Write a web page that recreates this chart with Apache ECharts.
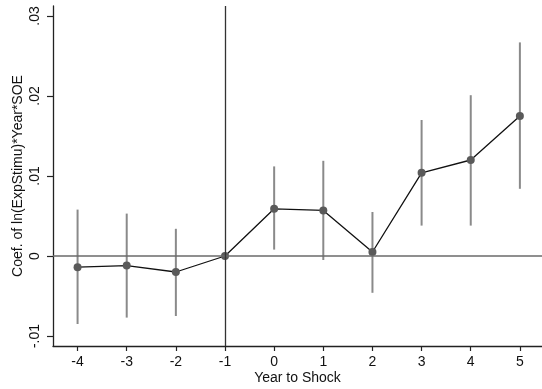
<!DOCTYPE html>
<html>
<head>
<meta charset="utf-8">
<script src="https://cdn.jsdelivr.net/npm/echarts@6/dist/echarts.min.js"></script>
<style>
  html, body { margin: 0; padding: 0; background: #fff; }
  #chart { width: 542px; height: 389px; }
</style>
</head>
<body>
<div id="chart"></div>
<script>
const years = [-4, -3, -2, -1, 0, 1, 2, 3, 4, 5];
const coef = [-0.0014, -0.0012, -0.0020, 0, 0.0059, 0.0057, 0.0005, 0.0104, 0.0120, 0.0175];
const ciLow = [-0.0085, -0.0077, -0.0075, 0, 0.0008, -0.0005, -0.0046, 0.0038, 0.0038, 0.0084];
const ciHigh = [0.0058, 0.0053, 0.0034, 0, 0.0112, 0.0119, 0.0055, 0.0170, 0.0201, 0.0267];
const yTicks = [-0.01, 0, 0.01, 0.02, 0.03];

const FONT = 'Liberation Sans, Arial, sans-serif';

const chart = echarts.init(document.getElementById('chart'));

const fmtY = (v) => {
  if (Math.abs(v) < 1e-9) return '0';
  return v.toFixed(2).replace('0.', '.');
};

chart.setOption({
  animation: false,
  grid: { left: 53, right: 0, top: 6, bottom: 43, outerBoundsMode: 'none', containLabel: false },
  xAxis: {
    type: 'value',
    min: -4.5,
    max: 5.45,
    name: 'Year to Shock',
    nameLocation: 'middle',
    nameGap: 25,
    nameMoveOverlap: false,
    nameTextStyle: { color: '#111', fontSize: 14, fontFamily: FONT },
    axisLine: { show: true, onZero: false, lineStyle: { color: '#222', width: 1.3 } },
    axisTick: { show: true, length: 5, customValues: years, lineStyle: { color: '#222', width: 1.2 } },
    axisLabel: { customValues: years, color: '#111', fontSize: 14, fontFamily: FONT, margin: 9 },
    splitLine: { show: false },
  },
  yAxis: {
    type: 'value',
    min: -0.01125,
    max: 0.03125,
    name: 'Coef. of ln(ExpStimu)*Year*SOE',
    nameLocation: 'middle',
    nameGap: 28,
    nameMoveOverlap: false,
    nameTextStyle: { color: '#111', fontSize: 14, fontFamily: FONT },
    axisLine: { show: true, onZero: false, lineStyle: { color: '#222', width: 1.3 } },
    axisTick: { show: true, length: 6, customValues: yTicks, lineStyle: { color: '#222', width: 1.2 } },
    axisLabel: {
      customValues: yTicks,
      rotate: 90,
      color: '#111',
      fontSize: 14,
      fontFamily: FONT,
      margin: 11,
      formatter: fmtY,
    },
    splitLine: { show: false },
  },
  series: [
    {
      type: 'custom',
      z: 2,
      silent: true,
      data: years.map((x, i) => [x, ciLow[i], ciHigh[i]]),
      renderItem: (params, api) => {
        const p1 = api.coord([api.value(0), api.value(1)]);
        const p2 = api.coord([api.value(0), api.value(2)]);
        return {
          type: 'line',
          shape: { x1: p1[0], y1: p1[1], x2: p2[0], y2: p2[1] },
          style: { stroke: '#8a8a8a', lineWidth: 2 },
        };
      },
    },
    {
      type: 'line',
      z: 3,
      data: years.map((x, i) => [x, coef[i]]),
      symbol: 'circle',
      symbolSize: 8,
      lineStyle: { color: '#111', width: 1.3 },
      itemStyle: { color: '#5a5a5a' },
      markLine: {
        silent: true,
        symbol: 'none',
        label: { show: false },
        data: [
          { yAxis: 0, lineStyle: { color: '#6a6a6a', width: 1.5, type: 'solid' } },
          { xAxis: -1, lineStyle: { color: '#333', width: 1.3, type: 'solid' } },
        ],
      },
    },
  ],
});
</script>
</body>
</html>
